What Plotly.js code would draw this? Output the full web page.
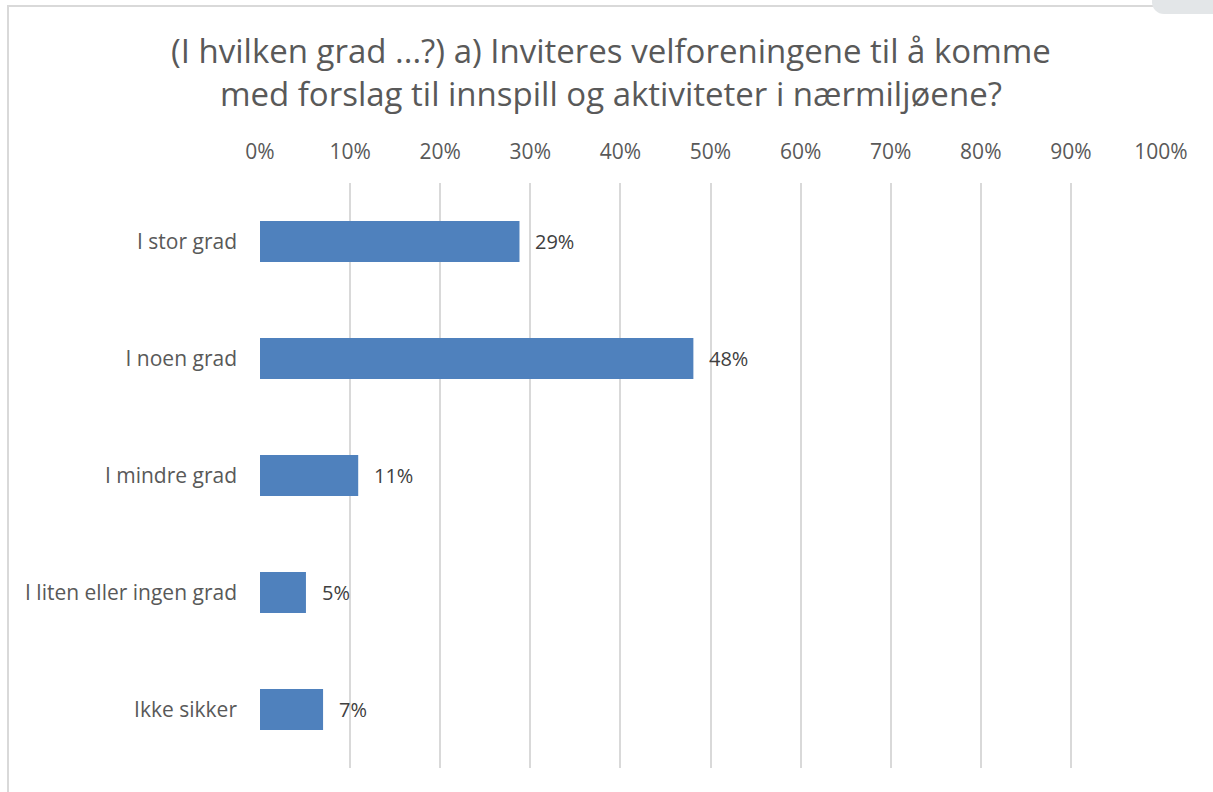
<!DOCTYPE html>
<html><head><meta charset="utf-8">
<script src="https://cdn.plot.ly/plotly-3.0.1.min.js"></script>
<style>
html,body{margin:0;padding:0;background:#fff;}
#chart{width:1213px;height:792px;position:absolute;left:0;top:0;}
#frame{position:absolute;left:7px;top:5px;width:1220px;height:800px;border:2px solid #d9d9d9;box-sizing:border-box;pointer-events:none;}
#tab{position:absolute;left:1152px;top:-10px;width:80px;height:24px;background:#e3e6e8;border-radius:12px;pointer-events:none;}
</style></head>
<body>
<div id="chart"></div>
<div id="frame"></div>
<div id="tab"></div>
<script>
const categories = ["I stor grad", "I noen grad", "I mindre grad", "I liten eller ingen grad", "Ikke sikker"];
const values = [28.8, 48.1, 10.9, 5.1, 7.0];
const tickVals = [0,10,20,30,40,50,60,70,80,90,100];
const tickText = ["0%","10%","20%","30%","40%","50%","60%","70%","80%","90%","100%"];
const titleText = "(I hvilken grad ...?) a) Inviteres velforeningene til å komme<br>med forslag til innspill og aktiviteter i nærmiljøene?";

const fontFam = "'Open Sans', sans-serif";
const gray = "#595959";

const trace = {
  type: "bar", orientation: "h",
  x: values, y: categories,
  marker: {color: "#4f81bd"},
  hoverinfo: "x+y"
};

const annotations = values.map((v, i) => ({
  x: v, y: categories[i], xref: "x", yref: "y",
  text: Math.round(v) + "%", showarrow: false,
  xanchor: "left", xshift: 14,
  font: {family: fontFam, size: 20, color: "#404040"}
}));
annotations.push({
  x: 0.39, y: 1.19, xref: "paper", yref: "paper",
  xanchor: "center", yanchor: "middle", showarrow: false,
  text: titleText,
  font: {family: fontFam, size: 33, color: gray}
});

const layout = {
  width: 1213, height: 792,
  margin: {l: 260, r: 52, t: 183, b: 24},
  paper_bgcolor: "#fff", plot_bgcolor: "#fff",
  bargap: 0.65,
  showlegend: false,
  xaxis: {
    side: "top", range: [0, 100], tickvals: tickVals, ticktext: tickText,
    showgrid: true, gridcolor: "#d9d9d9", gridwidth: 2,
    zeroline: false, showline: false, ticks: "",
    ticklabelstandoff: 19,
    tickfont: {family: fontFam, size: 21, color: gray},
    fixedrange: true
  },
  yaxis: {
    autorange: "reversed", type: "category",
    showgrid: false, zeroline: false, showline: false, ticks: "",
    ticklabelstandoff: 22,
    tickfont: {family: fontFam, size: 21, color: gray},
    fixedrange: true
  },
  annotations: annotations
};

Plotly.newPlot("chart", [trace], layout, {displayModeBar: false, staticPlot: true});
</script>
</body></html>
